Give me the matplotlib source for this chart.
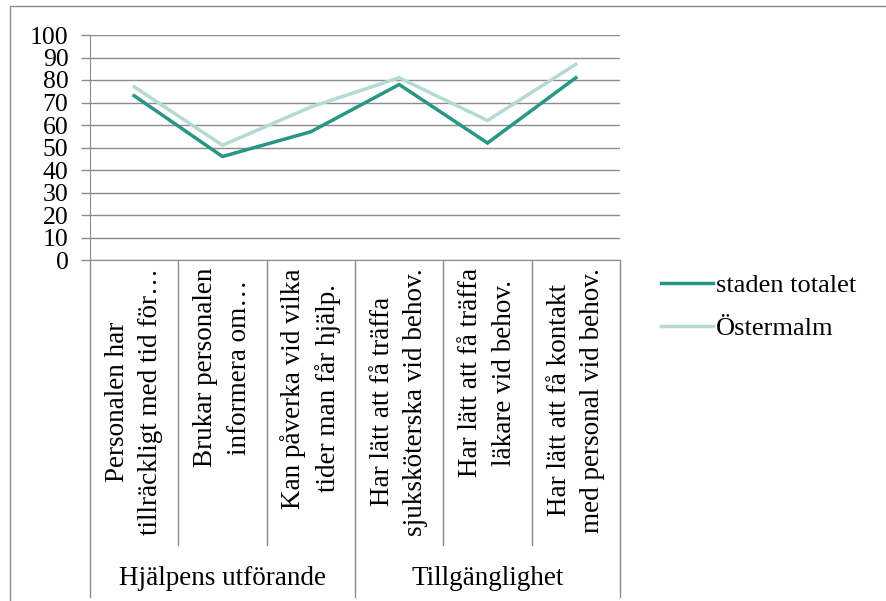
import matplotlib
matplotlib.use("Agg")
import matplotlib.pyplot as plt
from matplotlib.patches import Rectangle
from matplotlib.lines import Line2D

plt.rcParams['font.family'] = ['Liberation Serif', 'DejaVu Serif']

# data
categories = [
    "Personalen har\ntillräckligt med tid för…",
    "Brukar personalen\ninformera om…",
    "Kan påverka vid vilka\ntider man får hjälp.",
    "Har lätt att få träffa\nsjuksköterska vid behov.",
    "Har lätt att få träffa\nläkare vid behov.",
    "Har lätt att få kontakt\nmed personal vid behov.",
]
groups = ["Hjälpens utförande", "Tillgänglighet"]
group_sizes = [3, 3]
staden = [73, 46, 57, 78, 52, 81]
ostermalm = [77, 51, 68, 81, 62, 87]
y_ticks = list(range(0, 101, 10))

W, H = 886, 601
fig = plt.figure(figsize=(W / 100, H / 100), dpi=100)
ax = fig.add_axes([90 / W, 1 - 260 / H, (620 - 90) / W, (260 - 35) / H])

grey = '#8c8c8c'
teal = '#279685'
light = '#b5dad4'

x = list(range(len(categories)))
ax.plot(x, staden, color=teal, lw=2.5, solid_joinstyle='miter', label='staden totalet', zorder=3)
ax.plot(x, ostermalm, color=light, lw=2.5, solid_joinstyle='miter', label='Östermalm', zorder=2)

ax.set_xlim(-0.5, len(categories) - 0.5)
ax.set_ylim(0, 100)
ax.set_yticks(y_ticks)
ax.set_yticklabels([str(v) for v in y_ticks], fontsize=18.5)
ax.tick_params(axis='y', length=6.5, width=1, color=grey, pad=9)
ax.set_xticks([])
ax.yaxis.grid(True, color=grey, lw=1)
ax.set_axisbelow(True)
for side in ['top', 'right']:
    ax.spines[side].set_visible(False)
ax.spines['left'].set_color(grey)
ax.spines['bottom'].set_color(grey)


def yfrac(px):
    return (260 - px) / (260 - 35)


trans = ax.get_xaxis_transform()

# category separators
bounds = [-0.5]
for n in group_sizes:
    bounds.append(bounds[-1] + n)
for i in range(len(categories) + 1):
    xb = i - 0.5
    y_end = 597 if xb in bounds else 545
    ax.add_line(Line2D([xb, xb], [0, yfrac(y_end)], transform=trans,
                       color=grey, lw=1, clip_on=False))

# category labels
for i, lab in enumerate(categories):
    ax.text(i, yfrac(268), lab, transform=trans, rotation=90, ha='center', va='top',
            multialignment='center', fontsize=19.5, linespacing=1.45)

# group labels
for g, (lo, hi) in zip(groups, zip(bounds[:-1], bounds[1:])):
    ax.text((lo + hi) / 2, yfrac(578), g, transform=trans, ha='center', va='center',
            fontsize=19.5)

fig.legend(loc='center left', bbox_to_anchor=(650 / W, 1 - 307 / H), frameon=False,
           fontsize=19, handlelength=2.0, handletextpad=0.1, labelspacing=0.75,
           borderaxespad=0)

# outer frame of the chart area
fig.patches.append(Rectangle((10 / W, -0.05), 1.0, (H - 6) / H + 0.05,
                             transform=fig.transFigure, fill=False,
                             edgecolor=grey, lw=1))

fig.savefig('out.png', dpi=100)
